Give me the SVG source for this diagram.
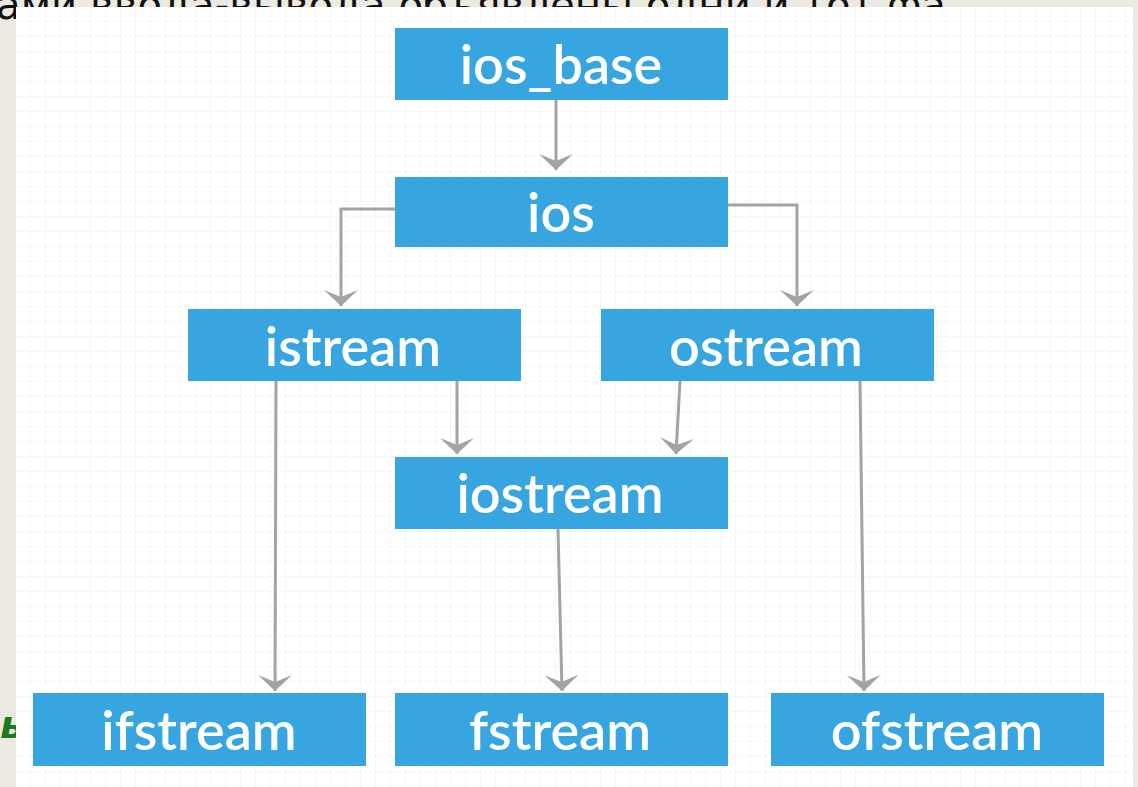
<svg xmlns="http://www.w3.org/2000/svg" width="1138" height="787" viewBox="0 0 1138 787">
  <defs>
    <pattern id="grid" x="16" y="7" width="15" height="15" patternUnits="userSpaceOnUse">
      <path d="M15,0 L15,15 M0,15 L15,15" fill="none" stroke="#eeeeee" stroke-width="1"/>
    </pattern>
    <marker id="arr" markerUnits="userSpaceOnUse" viewBox="-1 -18 19 36" refX="16" refY="0" markerWidth="19" markerHeight="36" orient="auto">
      <path d="M0,-17 L16,0 L0,17 L7,0 z" fill="#a3a3a3"/>
    </marker>
    <style>
      .box { fill: #36a5e0; }
      .lbl { fill: #ffffff; font-family: Lato, "Open Sans", sans-serif; font-weight: 600; font-size: 54px; text-anchor: middle; }
      .con { fill: none; stroke: #a3a3a3; stroke-width: 3; marker-end: url(#arr); }
    </style>
  </defs>
  <rect width="1138" height="787" fill="#ece9e2"/>
  <text x="-4" y="19" font-family="'DejaVu Sans Condensed', 'DejaVu Sans', sans-serif" font-size="40" fill="#111111" textLength="950" lengthAdjust="spacingAndGlyphs">ами ввода-вывода объявлены одни и тот фа</text>
  <text x="0" y="738" font-family="'DejaVu Sans', sans-serif" font-style="italic" font-weight="bold" font-size="38" fill="#1b7a1b">ь</text>
  <rect x="16" y="7" width="1117" height="780" fill="#ffffff"/>
  <rect x="16" y="7" width="1117" height="780" fill="url(#grid)"/>

  <g id="connectors">
    <path class="con" d="M556,100 L556,170"/>
    <path class="con" d="M395,209 L341,209 L341,306"/>
    <path class="con" d="M728,205 L797,205 L797,306"/>
    <path class="con" d="M457,378 L457,454"/>
    <path class="con" d="M680,381 L676,454"/>
    <path class="con" d="M276,381 L275,691"/>
    <path class="con" d="M558,529 L562,691"/>
    <path class="con" d="M860,381 L864,691"/>
  </g>

  <g id="ios_base"><rect class="box" x="395" y="28" width="333" height="72"/><text class="lbl" x="561" y="84">ios_base</text></g>
  <g id="ios"><rect class="box" x="395" y="177" width="333" height="70"/><text class="lbl" x="561" y="232">ios</text></g>
  <g id="istream"><rect class="box" x="188" y="309" width="333" height="72"/><text class="lbl" x="353" y="366">istream</text></g>
  <g id="ostream"><rect class="box" x="601" y="309" width="333" height="72"/><text class="lbl" x="766" y="366">ostream</text></g>
  <g id="iostream"><rect class="box" x="395" y="457" width="333" height="72"/><text class="lbl" x="560" y="513">iostream</text></g>
  <g id="ifstream"><rect class="box" x="33" y="693" width="333" height="73"/><text class="lbl" x="199" y="750">ifstream</text></g>
  <g id="fstream"><rect class="box" x="395" y="693" width="333" height="73"/><text class="lbl" x="560" y="750">fstream</text></g>
  <g id="ofstream"><rect class="box" x="771" y="693" width="333" height="73"/><text class="lbl" x="937" y="750">ofstream</text></g>
</svg>
